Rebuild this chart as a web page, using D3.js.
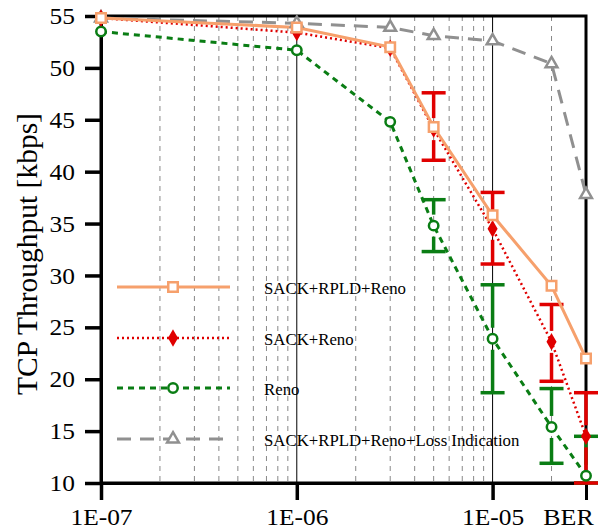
<!DOCTYPE html>
<html lang="en">
<head>
<meta charset="UTF-8">
<title>TCP Throughput vs BER</title>
<script src="https://d3js.org/d3.v7.min.js"></script>
<style>
  body { margin: 0; background: #fff; }
</style>
</head>
<body>
<script>
// data
var ber = [1e-7, 1e-6, 3e-6, 5e-6, 1e-5, 2e-5, 3e-5];
var sackRpldReno = [54.8, 53.9, 52.0, 44.3, 35.8, 29.0, 22.0];
var sackReno     = [54.8, 53.4, 51.9, 44.1, 34.5, 23.6, 14.5];
var reno         = [53.5, 51.7, 44.8, 34.8, 23.9, 15.4, 10.7];
var lossInd      = [54.8, 54.3, 53.9, 53.1, 52.6, 50.4, 37.8];

// error bars [ber, low, high, centre]
var sackRenoErr = [[5e-6, 41.1, 47.6, 44.1], [1e-5, 31.1, 38.0, 34.5], [2e-5, 19.8, 27.2, 23.6], [3e-5, 10.0, 18.7, 14.5]];
var renoErr     = [[5e-6, 32.3, 37.3, 34.8], [1e-5, 18.7, 29.1, 23.9], [2e-5, 11.9, 19.1, 15.4], [3e-5, 10.0, 14.5, 10.7]];

var yTicks = [10, 15, 20, 25, 30, 35, 40, 45, 50, 55];
var xTicks = [1e-7, 1e-6, 1e-5];
var xTickLabels = ["1E-07", "1E-06", "1E-05"];
var minorGrid = [2e-7,3e-7,4e-7,5e-7,6e-7,7e-7,8e-7,9e-7,2e-6,3e-6,4e-6,5e-6,6e-6,7e-6,8e-6,9e-6,2e-5];
var seriesNames = ["SACK+RPLD+Reno", "SACK+Reno", "Reno", "SACK+RPLD+Reno+Loss Indication"];

var W = 602, H = 531;
var pL = 101, pR = 586, pT = 16, pB = 483;
var FONT = "'Liberation Serif', 'Times New Roman', serif";
var SX = 1.13; // labels in the figure are a bit wide

var svg = d3.select("body").append("svg")
  .attr("width", W).attr("height", H);

var x = d3.scaleLog().domain([1e-7, 3e-5]).range([pL, pR]);
var y = d3.scaleLinear().domain([10, 55]).range([pB, pT]);

// grid
svg.append("g").selectAll("line").data(minorGrid).enter().append("line")
  .attr("x1", function(d){ return x(d); }).attr("x2", function(d){ return x(d); })
  .attr("y1", pT).attr("y2", pB)
  .attr("stroke", "#888").attr("stroke-width", 1).attr("stroke-dasharray", "5,5");
svg.append("g").selectAll("line").data([1e-6, 1e-5]).enter().append("line")
  .attr("x1", function(d){ return x(d); }).attr("x2", function(d){ return x(d); })
  .attr("y1", pT).attr("y2", pB)
  .attr("stroke", "#000").attr("stroke-width", 1);

// frame
svg.append("rect").attr("x", pL).attr("y", pT)
  .attr("width", pR - pL).attr("height", pB - pT)
  .attr("fill", "none").attr("stroke", "#000").attr("stroke-width", 3);

// axes
var yAxis = svg.append("g").attr("transform", "translate(" + pL + ",0)")
  .call(d3.axisLeft(y).tickValues(yTicks).tickSize(16));
var xAxis = svg.append("g").attr("transform", "translate(0," + pB + ")")
  .call(d3.axisBottom(x).tickValues(xTicks).tickFormat(function(d, i){ return xTickLabels[i]; })
    .tickSize(17));
[yAxis, xAxis].forEach(function(a){
  a.select(".domain").attr("stroke-width", 3);
  a.selectAll(".tick line").attr("stroke-width", 3.5);
  a.selectAll("text").attr("font-size", 22.5);
});
yAxis.selectAll(".tick text").attr("x", -26 / SX).attr("dy", "0.34em")
  .attr("transform", "scale(" + SX + ",1)");
xAxis.selectAll(".tick text").attr("y", 42).attr("dy", 0)
  .attr("transform", "scale(" + SX + ",1)");

svg.append("text").attr("transform", "translate(568.5,525) scale(" + SX + ",1)")
  .attr("text-anchor", "middle").attr("font-size", 23).text("BER");

svg.append("text")
  .attr("transform", "translate(37,254) rotate(-90)")
  .attr("text-anchor", "middle").attr("font-size", 29.5)
  .text("TCP Throughput [kbps]");

var line = d3.line()
  .x(function(d){ return x(d[0]); })
  .y(function(d){ return y(d[1]); });

function pts(vals){ return ber.map(function(b, i){ return [b, vals[i]]; }); }

var styles = [
  { vals: sackRpldReno, color: "#f6a06c", width: 3, dash: null, sym: d3.symbolSquare, fill: "#fff", size: 90 },
  { vals: sackReno, color: "#e00000", width: 2.5, dash: "2,3", sym: d3.symbolDiamond, fill: "#e00000", size: 45 },
  { vals: reno, color: "#0a7d14", width: 3, dash: "6,5", sym: d3.symbolCircle, fill: "#fff", size: 70 },
  { vals: lossInd, color: "#909090", width: 3, dash: "14,9", sym: d3.symbolTriangle, fill: "#fff", size: 60 }
];

function errorBars(data, color){
  var g = svg.append("g").attr("stroke", color).attr("stroke-width", 3.5);
  var cap = 12, gap = 11;
  data.forEach(function(e){
    var cx = x(e[0]), yl = y(e[1]), yh = y(e[2]), yc = y(e[3]);
    if (yc - gap > yh) g.append("line").attr("x1", cx).attr("x2", cx).attr("y1", yh).attr("y2", yc - gap);
    if (yc + gap < yl) g.append("line").attr("x1", cx).attr("x2", cx).attr("y1", yc + gap).attr("y2", yl);
    g.append("line").attr("x1", cx - cap).attr("x2", cx + cap).attr("y1", yh).attr("y2", yh);
    g.append("line").attr("x1", cx - cap).attr("x2", cx + cap).attr("y1", yl).attr("y2", yl);
  });
}

// draw lines from back to front
[3, 2, 1, 0].forEach(function(k){
  var s = styles[k];
  svg.append("path").datum(pts(s.vals))
    .attr("d", line).attr("fill", "none")
    .attr("stroke", s.color).attr("stroke-width", s.width)
    .attr("stroke-dasharray", s.dash);
  if (k === 2) errorBars(renoErr, s.color);
  if (k === 1) errorBars(sackRenoErr, s.color);
});
[3, 2, 1, 0].forEach(function(k){
  var s = styles[k];
  svg.append("g").selectAll("path").data(pts(s.vals)).enter().append("path")
    .attr("transform", function(d){ return "translate(" + x(d[0]) + "," + y(d[1]) + ")"; })
    .attr("d", d3.symbol().type(s.sym).size(s.size))
    .attr("fill", s.fill).attr("stroke", s.color).attr("stroke-width", 2.5);
});

// legend
var legY = [287, 338, 388, 439];
styles.forEach(function(s, i){
  svg.append("line").attr("x1", 117).attr("x2", 230)
    .attr("y1", legY[i]).attr("y2", legY[i])
    .attr("stroke", s.color).attr("stroke-width", s.width)
    .attr("stroke-dasharray", s.dash);
  svg.append("path").attr("transform", "translate(173," + legY[i] + ")")
    .attr("d", d3.symbol().type(s.sym).size(s.size))
    .attr("fill", s.fill).attr("stroke", s.color).attr("stroke-width", 2.5);
  svg.append("text").attr("x", 264).attr("y", legY[i] + 7)
    .attr("font-size", 16.8).text(seriesNames[i]);
});

svg.selectAll("text").style("font-family", FONT).attr("fill", "#000");
</script>
</body>
</html>
